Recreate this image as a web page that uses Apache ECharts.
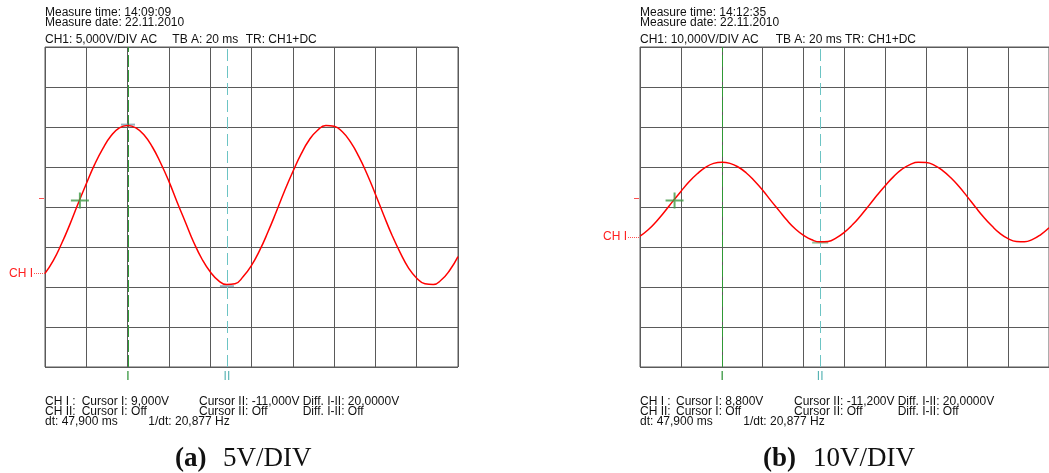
<!DOCTYPE html>
<html>
<head>
<meta charset="utf-8">
<script src="https://cdn.jsdelivr.net/npm/echarts@6/dist/echarts.min.js"></script>
<style>
html,body{margin:0;padding:0;background:#fff;}
#chart{width:1049px;height:473px;}
</style>
</head>
<body>
<div id="chart"></div>
<script>
// time in ms (20 ms / DIV, 10 DIV)
const timesMs = [0,4,8,12,16,20,24,28,32,36,40,44,48,52,56,60,64,68,72,76,80,84,88,92,96,100,104,108,112,116,120,124,128,132,136,140,144,148,152,156,160,164,168,172,176,180,184,188,192,196,200];
// (a) 5 V/DIV trace, volts relative to screen centre
const voltsA = [-8.3,-6.7,-4.6,-2.2,0.4,2.9,5.3,7.3,8.9,9.9,10.2,9.9,9.0,7.5,5.5,3.2,0.6,-1.9,-4.4,-6.5,-8.1,-9.2,-9.7,-9.6,-8.7,-7.3,-5.4,-3.1,-0.6,2.0,4.4,6.6,8.4,9.6,10.2,10.1,9.4,8.1,6.3,4.1,1.6,-1.0,-3.5,-5.7,-7.6,-8.9,-9.6,-9.7,-9.1,-7.9,-6.2];
// (b) 10 V/DIV trace, volts relative to screen centre
const voltsB = [-7.3,-5.7,-3.6,-1.2,1.4,3.9,6.3,8.3,9.9,10.9,11.2,10.9,10.0,8.5,6.5,4.2,1.6,-0.9,-3.4,-5.5,-7.1,-8.2,-8.7,-8.6,-7.7,-6.3,-4.4,-2.1,0.4,3.0,5.4,7.6,9.4,10.6,11.2,11.1,10.4,9.1,7.3,5.1,2.6,0.0,-2.5,-4.7,-6.6,-7.9,-8.6,-8.7,-8.1,-6.9,-5.2];
const cursorI = 40.2, cursorII = 88.1;
const crossA = [16.9, 0.8], crossB = [16.9, 1.6];
const levelMarksA = [[40.2, 10.3], [88.1, -9.9]];
const levelMarksB = [[88.1, -8.9]];
const voltsPerDiv = [5, 10];

const headerA = ['Measure time: 14:09:09', 'Measure date: 22.11.2010'];
const headerB = ['Measure time: 14:12:35', 'Measure date: 22.11.2010'];
const setupA = ['CH1: 5,000V/DIV AC', 'TB A: 20 ms', 'TR: CH1+DC'];
const setupB = ['CH1: 10,000V/DIV AC', 'TB A: 20 ms', 'TR: CH1+DC'];
const readA = [['CH I :', 'Cursor I: 9,000V', 'Cursor II: -11,000V', 'Diff. I-II: 20,0000V'],
               ['CH II:', 'Cursor I: Off', 'Cursor II: Off', 'Diff. I-II: Off'],
               ['dt: 47,900 ms', '1/dt: 20,877 Hz']];
const readB = [['CH I :', 'Cursor I: 8,800V', 'Cursor II: -11,200V', 'Diff. I-II: 20,0000V'],
               ['CH II:', 'Cursor I: Off', 'Cursor II: Off', 'Diff. I-II: Off'],
               ['dt: 47,900 ms', '1/dt: 20,877 Hz']];
const captionA = ['(a)', '5V/DIV'];
const captionB = ['(b)', '10V/DIV'];

const SANS = '"Liberation Sans", Arial, sans-serif';
const SERIF = '"Liberation Serif", "Times New Roman", serif';
const GRIDC = '#5a5a5a';

function mkAxisX(gi){
  return {gridIndex:gi, type:'value', min:0, max:200, interval:20,
    axisLine:{show:false}, axisTick:{show:false}, axisLabel:{show:false},
    splitLine:{show:true, lineStyle:{color:GRIDC, width:1}}};
}
function mkAxisY(gi, vpd){
  return {gridIndex:gi, type:'value', min:-4*vpd, max:4*vpd, interval:vpd,
    axisLine:{show:false}, axisTick:{show:false}, axisLabel:{show:false},
    splitLine:{show:true, lineStyle:{color:GRIDC, width:1}}};
}
function cursorMarks(){
  return {symbol:'none', silent:true, animation:false,
    data:[
      {xAxis:cursorI, lineStyle:{color:'#2f9a35', type:[12,3], width:1},
       label:{show:true, position:'start', formatter:'I', color:'#1f8a28', fontFamily:SANS, fontSize:12, distance:4}},
      {xAxis:cursorII, lineStyle:{color:'#6cc4c4', type:[12,5], width:1},
       label:{show:true, position:'start', formatter:'II', color:'#55b2b2', fontFamily:SANS, fontSize:12, distance:4}}
    ]};
}
function traceSeries(gi, volts){
  return {type:'line', xAxisIndex:gi, yAxisIndex:gi, smooth:true, showSymbol:false,
    data: timesMs.map((t,i)=>[t, volts[i]]),
    lineStyle:{color:'#ff0000', width:1.5}, z:5, markLine:cursorMarks()};
}
const crossPath = 'path://M0,7h18v2h-18z M8,0h2v16h-2z';

const graphic = [];
function txt(x, y, text, opt){
  opt = opt || {};
  graphic.push({type:'text', x:x, y:y, silent:true, style:{text:text,
    font: opt.font || ('12px ' + SANS), fill: opt.fill || '#111',
    align: opt.align || 'left', verticalAlign:'middle'}});
}
function line(x1,y1,x2,y2,color,dash){
  graphic.push({type:'line', silent:true, shape:{x1:x1,y1:y1,x2:x2,y2:y2},
    style:{stroke:color, lineWidth:1, lineDash:dash||null}});
}
function panelText(x0, header, setup, read, setupX, readX, line3X){
  txt(x0, 12.8, header[0]);
  txt(x0, 22.8, header[1]);
  txt(x0 + setupX[0], 40, setup[0]);
  txt(x0 + setupX[1], 40, setup[1]);
  txt(x0 + setupX[2], 40, setup[2]);
  for (let r = 0; r < 2; r++) {
    for (let c = 0; c < 4; c++) txt(x0 + readX[c], 401.7 + r*10, read[r][c]);
  }
  txt(x0, 422, read[2][0]);
  txt(x0 + line3X, 422, read[2][1]);
}
panelText(45, headerA, setupA, readA, [0,127.3,200.7], [0,36.7,154,257.7], 103.3);
panelText(640, headerB, setupB, readB, [0,135.7,205], [0,36,154,257.7], 103.3);

// channel ground / trigger markers
txt(33, 273.5, 'CH I', {fill:'#ff2020', align:'right'});
line(34, 273.5, 45, 273.5, '#ff5050', [1,1]);
line(39, 198.5, 44, 198.5, '#ff5050');
txt(627, 237, 'CH I', {fill:'#ff2020', align:'right'});
line(628, 237.5, 640, 237.5, '#ff5050', [1,1]);
line(634, 198.5, 639, 198.5, '#ff5050');

// captions
txt(175, 459, captionA[0], {font:'bold 27px ' + SERIF, fill:'#111'});
txt(223, 459, captionA[1], {font:'27px ' + SERIF, fill:'#111'});
txt(763, 459, captionB[0], {font:'bold 27px ' + SERIF, fill:'#111'});
txt(813, 459, captionB[1], {font:'27px ' + SERIF, fill:'#111'});

const chart = echarts.init(document.getElementById('chart'), null, {renderer:'canvas'});
chart.setOption({
  animation:false,
  backgroundColor:'#ffffff',
  grid:[
    {left:45, top:47, width:413, height:320, show:true, borderColor:GRIDC, borderWidth:1, backgroundColor:'transparent'},
    {left:640, top:47, width:413, height:320, show:true, borderColor:GRIDC, borderWidth:1, backgroundColor:'transparent'}
  ],
  xAxis:[mkAxisX(0), mkAxisX(1)],
  yAxis:[mkAxisY(0, voltsPerDiv[0]), mkAxisY(1, voltsPerDiv[1])],
  series:[
    traceSeries(0, voltsA),
    traceSeries(1, voltsB),
    {type:'scatter', xAxisIndex:0, yAxisIndex:0, data:[crossA], symbol:crossPath, symbolSize:[18,16], itemStyle:{color:'#3f9a45'}, z:6, silent:true},
    {type:'scatter', xAxisIndex:1, yAxisIndex:1, data:[crossB], symbol:crossPath, symbolSize:[18,16], itemStyle:{color:'#3f9a45'}, z:6, silent:true},
    {type:'scatter', xAxisIndex:0, yAxisIndex:0, data:levelMarksA, symbol:'rect', symbolSize:[14,2], itemStyle:{color:'#7a9fb0', opacity:0.8}, z:4, silent:true},
    {type:'scatter', xAxisIndex:1, yAxisIndex:1, data:levelMarksB, symbol:'rect', symbolSize:[16,2], itemStyle:{color:'#8ab88a', opacity:0.9}, z:4, silent:true}
  ],
  graphic: graphic
});
</script>
</body>
</html>
